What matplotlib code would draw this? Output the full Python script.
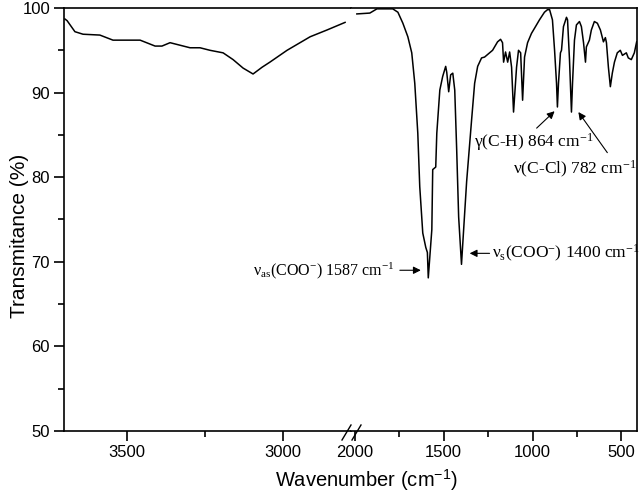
import matplotlib
matplotlib.use("Agg")
import matplotlib.pyplot as plt
from matplotlib.lines import Line2D

plt.rcParams['font.family'] = ['Liberation Sans', 'DejaVu Sans']
plt.rcParams['mathtext.fontset'] = 'custom'
plt.rcParams['mathtext.rm'] = 'Liberation Serif'
plt.rcParams['mathtext.it'] = 'Liberation Serif:italic'

# ---- data (wavenumber cm-1, transmittance %) ----
left_wn = [3699, 3692, 3667, 3641, 3587, 3545, 3458, 3410, 3388, 3362, 3330, 3298,
           3266, 3234, 3192, 3160, 3128, 3096, 3067, 3042, 2987, 2913, 2859, 2801]
left_T = [98.7, 98.5, 97.2, 96.9, 96.8, 96.2, 96.2, 95.5, 95.5, 95.9, 95.6, 95.3,
          95.3, 95.0, 94.7, 93.9, 92.9, 92.2, 93.0, 93.6, 95.0, 96.6, 97.4, 98.3]

right_wn = [1989, 1916, 1876, 1787, 1758, 1730, 1702, 1680, 1663, 1646, 1635, 1618,
            1601, 1592, 1587, 1567, 1562, 1545, 1539, 1522, 1506, 1489, 1483, 1472,
            1461, 1449, 1438, 1427, 1416, 1400, 1382, 1371, 1343, 1326, 1309, 1287,
            1270, 1242, 1225, 1197, 1180, 1169, 1163, 1152, 1140, 1129, 1118, 1107,
            1090, 1079, 1067, 1056, 1045, 1028, 1006, 989, 961, 933, 916, 904,
            888, 876, 865, 860, 854, 843, 837, 826, 809, 803, 792, 781,
            775, 764, 753, 736, 725, 713, 702, 697, 680, 669, 652, 635,
            618, 607, 601, 590, 584, 573, 562, 551, 539, 523, 506, 494,
            472, 461, 444, 427, 414]
right_T = [99.3, 99.4, 99.9, 99.9, 99.5, 98.2, 96.6, 94.7, 91.1, 85.2, 78.9, 73.4,
           71.7, 71.1, 68.1, 73.8, 80.9, 81.2, 85.2, 90.3, 91.9, 93.1, 92.4, 90.1,
           92.1, 92.3, 90.3, 83.2, 75.3, 69.7, 75.8, 79.5, 86.8, 91.1, 93.1, 94.1,
           94.2, 94.7, 95.0, 96.0, 96.3, 95.9, 93.6, 94.8, 93.6, 94.8, 93.0, 87.7,
           93.0, 95.0, 94.7, 89.1, 94.2, 95.9, 97.0, 97.6, 98.6, 99.5, 99.8, 99.8,
           98.6, 95.0, 91.1, 88.3, 91.1, 94.7, 95.0, 97.8, 98.9, 98.6, 93.9, 87.7,
           91.1, 96.2, 98.0, 98.4, 97.8, 95.9, 93.6, 95.4, 96.2, 97.4, 98.4, 98.2,
           97.4, 96.5, 96.0, 96.5, 95.9, 93.0, 90.7, 92.3, 93.6, 94.7, 95.0, 94.4,
           94.7, 94.1, 93.9, 94.7, 96.0]

left_ticks = [3500, 3000]
right_ticks = [2000, 1500, 1000, 500]
y_ticks = [50, 60, 70, 80, 90, 100]

W, H = 640, 496
fig = plt.figure(figsize=(6.4, 4.96), dpi=100)
x0, xb, x1 = 64 / W, 351 / W, 637 / W
y_top, y_bot = 1 - 8 / H, 1 - 431 / H
axL = fig.add_axes([x0, y_bot, xb - x0, y_top - y_bot])
axR = fig.add_axes([xb, y_bot, x1 - xb, y_top - y_bot])

lw_line = 1.1
axL.plot(left_wn, left_T, color='k', lw=lw_line)
axR.plot(right_wn, right_T, color='k', lw=lw_line)

axL.set_xlim(3702, 2782)
axR.set_xlim(2022, 412)
for ax in (axL, axR):
    ax.set_ylim(50, 100)
    for s in ax.spines.values():
        s.set_linewidth(1.2)

axL.spines['right'].set_visible(False)
axR.spines['left'].set_visible(False)

axL.set_xticks(left_ticks)
axL.set_xticks([3250], minor=True)
axR.set_xticks(right_ticks)
axR.set_xticks([1750, 1250, 750], minor=True)
axL.set_yticks(y_ticks)
axL.set_yticks([55, 65, 75, 85, 95], minor=True)
axR.set_yticks([])
axR.tick_params(axis='y', which='both', left=False, right=False, labelleft=False)

for ax in (axL, axR):
    ax.tick_params(axis='both', which='major', direction='out', length=7, width=1.2,
                   labelsize=12, pad=3)
    ax.tick_params(axis='both', which='minor', direction='out', length=4, width=1.2)
    ax.tick_params(top=False, right=False)

fig.text(20 / W, 1 - 236 / H, 'Transmitance (%)', rotation=90, ha='center', va='center',
         fontsize=15)
fig.text(366 / W, 1 - 493 / H, 'Wavenumber (cm$^{\\mathregular{-1}}$)', ha='center', va='bottom',
         fontsize=14.5)

# break marks
def px(x, y):
    return x / W, 1 - y / H
for xa in (342, 352):
    p1 = px(xa, 440)
    p2 = px(xa + 9, 425)
    fig.add_artist(Line2D([p1[0], p2[0]], [p1[1], p2[1]], color='k', lw=1.0))

serif = ['Liberation Serif', 'DejaVu Serif']
afs = 12.5
aprops = dict(arrowstyle='-|>', color='k', lw=0.8, mutation_scale=11, shrinkA=0, shrinkB=0)

axR.annotate('', xy=(876, 87.8), xytext=(977, 85.8), arrowprops=aprops)
axR.text(1331, 84.1, 'γ(C-H) 864 cm$^{-1}$', family=serif, fontsize=afs, ha='left', va='center')

axR.annotate('', xy=(742, 87.7), xytext=(579, 82.9), arrowprops=aprops)
axR.text(1112, 80.9, 'ν(C-Cl) 782 cm$^{-1}$', family=serif, fontsize=afs, ha='left', va='center')

axR.annotate('', xy=(1354, 71.0), xytext=(1242, 71.0), arrowprops=aprops)
axR.text(1230, 71.0, 'ν$_{\\mathregular{s}}$(COO$^{-}$) 1400 cm$^{-1}$', family=serif, fontsize=afs,
         ha='left', va='center')

axR.annotate('', xy=(1629, 69.0), xytext=(1747, 69.0), arrowprops=aprops)
axR.text(1780, 69.0, 'ν$_{\\mathregular{as}}$(COO$^{-}$) 1587 cm$^{-1}$', family=serif, fontsize=11.5,
         ha='right', va='center', clip_on=False)

fig.savefig('out.png', dpi=100)
